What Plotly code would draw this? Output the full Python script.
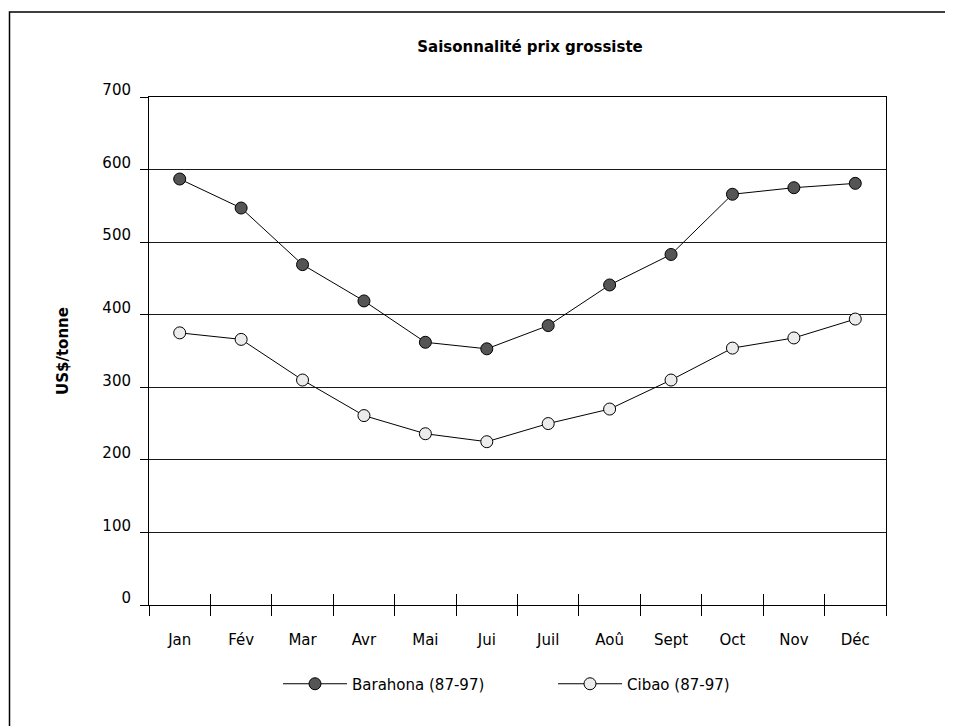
import plotly.graph_objects as go

months = ["Jan", "Fév", "Mar", "Avr", "Mai", "Jui", "Juil", "Aoû", "Sept", "Oct", "Nov", "Déc"]
barahona = [587, 547, 469, 419, 362, 353, 385, 441, 483, 566, 575, 581]
cibao = [375, 366, 310, 261, 236, 225, 250, 270, 310, 354, 368, 394]
y_ticks = [0, 100, 200, 300, 400, 500, 600, 700]

FONT = "DejaVu Sans"
OFF = 8  # page body margin

fig = go.Figure()
fig.add_trace(go.Scatter(x=months, y=barahona, name="Barahona (87-97)", mode="lines+markers",
                         line=dict(color="black", width=1),
                         marker=dict(size=12, color="#555555", line=dict(color="black", width=1))))
fig.add_trace(go.Scatter(x=months, y=cibao, name="Cibao (87-97)", mode="lines+markers",
                         line=dict(color="black", width=1),
                         marker=dict(size=12, color="#ececec", line=dict(color="black", width=1))))

# target pixel layout of the plot box (in page coords): x 149-886, y 97-605
L, R, T, B = 149 - OFF, 886 - OFF, 97 - OFF, 605 - OFF
W, H = 953, 726
pw, ph = R - L, B - T

def px(x):
    return (x - OFF - L) / pw

def py(y):
    return (B - (y - OFF)) / ph

fig.update_layout(
    width=W, height=H,
    margin=dict(l=L, r=W - R, t=T, b=H - B),
    paper_bgcolor="white", plot_bgcolor="white",
    font=dict(family=FONT, size=15, color="black"),
    title=dict(text="<b>Saisonnalité prix grossiste</b>", x=(530 - OFF) / W, xanchor="center",
               y=1 - (47 - OFF) / H, yanchor="middle", font=dict(size=15)),
    showlegend=True,
    legend=dict(orientation="h", x=px(278), xanchor="left", y=py(684), yanchor="middle",
                itemwidth=64, entrywidth=196, font=dict(size=15), bgcolor="rgba(0,0,0,0)"),
    xaxis=dict(type="category", categoryarray=months, range=[-0.5, 11.5],
               showline=True, linecolor="black", linewidth=1, mirror=True,
               ticks="outside", tickson="boundaries", ticklen=10, tickcolor="black",
               ticklabelstandoff=21, showgrid=False),
    xaxis2=dict(overlaying="x", anchor="y", side="bottom", range=[-0.5, 11.5],
                tickvals=[i - 0.5 for i in range(13)], ticks="inside", ticklen=11,
                tickcolor="black", showticklabels=False, showgrid=False, zeroline=False,
                showline=False),
    yaxis=dict(range=[0, 700], tickvals=y_ticks, showline=True, linecolor="black",
               linewidth=1, mirror=True, ticks="outside", ticklen=8, tickcolor="black",
               showgrid=True, gridcolor="#1a1a1a", gridwidth=1.2, zeroline=False,
               ticklabelshift=-7, ticklabelstandoff=6,
               title=dict(text="<b>US$/tonne</b>", standoff=30, font=dict(size=15))),
    shapes=[dict(type="rect", xref="paper", yref="paper", x0=px(9.5), x1=px(1000),
                 y0=py(800), y1=py(12), line=dict(color="black", width=1.5),
                 fillcolor="rgba(0,0,0,0)", layer="below")],
)
# invisible trace that keeps the tick-crossing axis alive
fig.add_trace(go.Scatter(x=[-0.5, 11.5], y=[None, None], xaxis="x2", showlegend=False,
                         hoverinfo="skip", mode="lines"))

fig.write_html("out.html")
